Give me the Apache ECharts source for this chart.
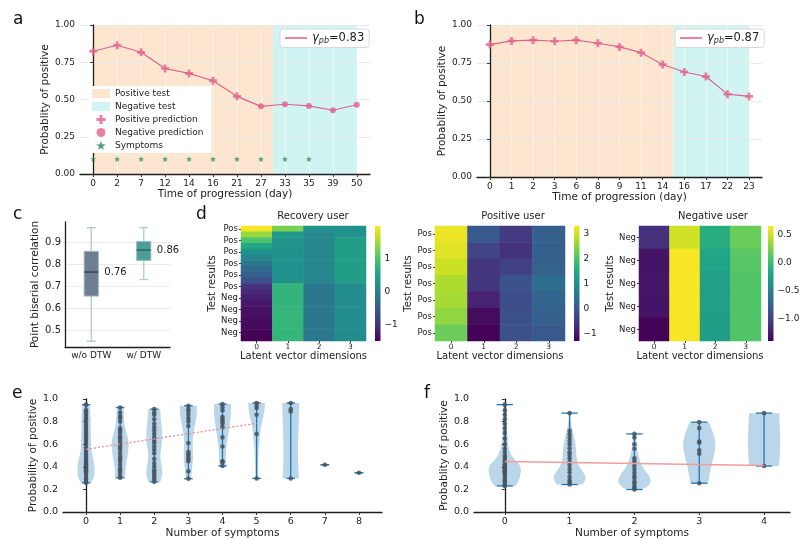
<!DOCTYPE html>
<html><head><meta charset="utf-8">
<script src="https://cdn.jsdelivr.net/npm/echarts@6/dist/echarts.min.js"></script>
<style>html,body{margin:0;padding:0;background:#fff}#c{width:800px;height:540px}</style>
</head><body><div id="c"></div>
<script>
// ---------- Panel a ----------
const aDays = ['0','2','7','12','14','16','21','27','33','35','39','50'];
const aProb = [0.824,0.864,0.817,0.708,0.675,0.626,0.521,0.454,0.468,0.457,0.428,0.465];
const aSymptomDays = ['0','2','7','12','14','16','21','27','33','35'];
const aPosTestSpan = [0, 7.5];   // day-index units
const aNegTestSpan = [7.5, 11];
const aGamma = '0.83';
// ---------- Panel b ----------
const bDays = ['0','1','2','3','6','8','9','11','14','16','17','22','23'];
const bProb = [0.871,0.895,0.900,0.893,0.900,0.880,0.856,0.818,0.740,0.691,0.661,0.545,0.530];
const bPosTestSpan = [0, 8.5];
const bNegTestSpan = [8.5, 12];
const bGamma = '0.87';
const symptomLevel = 0.1;
const predThreshold = 0.5;
// ---------- Panel c ----------
const cGroups = ['w/o DTW', 'w/ DTW'];
const cMin = [0.452, 0.732];
const cQ1  = [0.657, 0.819];
const cMed = [0.766, 0.866];
const cQ3  = [0.860, 0.904];
const cMax = [0.967, 0.967];
const cLabels = ['0.76', '0.86'];
const cTicks = [0.5, 0.6, 0.7, 0.8, 0.9];
// ---------- Panel d ----------
const dCols = ['0','1','2','3'];
const recLabels = ['Pos','Pos','Pos','Pos','Pos','Pos','Pos','Pos','Pos','Pos','Pos','Pos','Neg','Neg','Neg','Neg','Neg','Neg','Neg','Neg'];
const recRows = [
 [1.95, 1.30, 0.25, 0.25],
 [1.45, 0.40, 0.12, 0.25],
 [1.00, 0.30, 0.10, 0.45],
 [0.60, 0.28, 0.10, 0.45],
 [0.25, 0.25, 0.10, 0.45],
 [0.07, 0.25, 0.10, 0.45],
 [-0.10, 0.25, 0.10, 0.45],
 [-0.28, 0.25, 0.10, 0.45],
 [-0.45, 0.25, 0.10, 0.45],
 [-0.63, 0.25, 0.10, 0.45],
 [-1.00, 0.78, -0.12, 0.20],
 [-1.10, 0.78, -0.12, 0.20],
 [-1.20, 0.78, -0.12, 0.20],
 [-1.28, 0.78, -0.12, 0.20],
 [-1.33, 0.80, -0.12, 0.20],
 [-1.36, 0.80, -0.12, 0.20],
 [-1.40, 0.80, -0.12, 0.20],
 [-1.43, 0.80, -0.12, 0.20],
 [-1.47, 0.80, -0.12, 0.20],
 [-1.50, 0.80, -0.12, 0.20]
];
const recRange = [-1.5, 2.0];
const recTicks = [-1, 0, 1];
const posLabels = ['Pos','Pos','Pos','Pos','Pos','Pos','Pos'];
const posRows = [
 [3.20, 0.00, -0.50, 0.10],
 [3.10, -0.35, -0.62, 0.10],
 [2.95, -0.55, -0.40, 0.15],
 [2.75, -0.55, -0.12, 0.35],
 [2.70, -0.85, -0.20, 0.20],
 [2.55, -1.15, -0.15, 0.10],
 [2.30, -1.25, -0.15, 0.00]
];
const posRange = [-1.28, 3.32];
const posTicks = [-1, 0, 1, 2, 3];
const negLabels = ['Neg','Neg','Neg','Neg','Neg'];
const negRows = [
 [-1.10, 0.52, -0.12, 0.19],
 [-1.28, 0.64, -0.20, 0.12],
 [-1.27, 0.64, -0.24, 0.10],
 [-1.28, 0.64, -0.24, 0.10],
 [-1.38, 0.64, -0.26, 0.10]
];
const negRange = [-1.39, 0.66];
const negTicks = [-1.0, -0.5, 0.0, 0.5];
// ---------- Panel e ----------
const eCats = ['0','1','2','3','4','5','6','7','8'];
const ePoints = [
 [0.258,0.27,0.29,0.31,0.33,0.35,0.36,0.37,0.38,0.39,0.40,0.41,0.42,0.43,0.45,0.47,0.49,0.51,0.53,0.55,0.57,0.60,0.62,0.64,0.66,0.68,0.70,0.72,0.74,0.76,0.78,0.80,0.82,0.84,0.86,0.88,0.90,0.95],
 [0.303,0.32,0.35,0.37,0.39,0.42,0.45,0.47,0.49,0.52,0.55,0.57,0.59,0.61,0.63,0.65,0.67,0.70,0.72,0.74,0.80,0.83,0.85,0.88,0.925],
 [0.267,0.29,0.31,0.33,0.35,0.37,0.40,0.43,0.47,0.52,0.55,0.58,0.61,0.63,0.66,0.69,0.72,0.75,0.78,0.82,0.86,0.88,0.91],
 [0.294,0.36,0.45,0.47,0.49,0.51,0.53,0.61,0.76,0.80,0.83,0.86,0.89,0.91,0.94],
 [0.407,0.44,0.45,0.58,0.66,0.75,0.78,0.80,0.82,0.84,0.90,0.93,0.955],
 [0.297,0.69,0.86,0.92,0.94,0.965],
 [0.297,0.89,0.91,0.965],
 [0.418],
 [0.347]
];
const eProfiles = [
 [[0.258,0.6],[0.3,0.9],[0.35,1.0],[0.4,1.0],[0.45,0.9],[0.5,0.75],[0.55,0.62],[0.6,0.58],[0.65,0.58],[0.7,0.56],[0.75,0.55],[0.8,0.55],[0.85,0.52],[0.9,0.48],[0.95,0.42]],
 [[0.303,0.6],[0.35,0.62],[0.4,0.65],[0.45,0.75],[0.5,0.88],[0.55,0.95],[0.6,1.0],[0.65,0.92],[0.7,0.75],[0.75,0.58],[0.8,0.48],[0.85,0.45],[0.9,0.42],[0.925,0.4]],
 [[0.267,0.7],[0.3,0.85],[0.35,0.95],[0.4,0.88],[0.45,0.75],[0.5,0.7],[0.55,0.78],[0.6,0.88],[0.65,0.92],[0.7,0.92],[0.75,0.88],[0.8,0.8],[0.85,0.75],[0.91,0.7]],
 [[0.294,0.3],[0.35,0.38],[0.4,0.45],[0.45,0.52],[0.5,0.55],[0.55,0.52],[0.6,0.5],[0.65,0.52],[0.7,0.6],[0.75,0.72],[0.8,0.85],[0.85,0.95],[0.9,1.0],[0.94,0.98]],
 [[0.407,0.35],[0.45,0.4],[0.5,0.4],[0.55,0.42],[0.6,0.5],[0.65,0.6],[0.7,0.7],[0.75,0.8],[0.8,0.9],[0.85,0.97],[0.9,1.0],[0.955,0.98]],
 [[0.297,0.15],[0.35,0.16],[0.45,0.2],[0.55,0.25],[0.6,0.3],[0.7,0.42],[0.75,0.5],[0.8,0.65],[0.85,0.8],[0.9,0.92],[0.965,1.0]],
 [[0.297,0.95],[0.35,0.92],[0.45,0.87],[0.55,0.85],[0.65,0.87],[0.75,0.92],[0.85,0.97],[0.965,1.0]],
 [[0.418,0]],
 [[0.347,0]]
];
const eTrend = [[0, 0.555], [5, 0.785]];
// ---------- Panel f ----------
const fCats = ['0','1','2','3','4'];
const fPoints = [
 [0.231,0.24,0.26,0.28,0.30,0.32,0.34,0.35,0.36,0.37,0.38,0.39,0.40,0.41,0.42,0.44,0.46,0.48,0.50,0.53,0.56,0.60,0.65,0.70,0.74,0.78,0.82,0.86,0.90,0.95],
 [0.243,0.26,0.282,0.312,0.35,0.38,0.415,0.445,0.475,0.504,0.528,0.564,0.60,0.629,0.659,0.688,0.718,0.875],
 [0.199,0.214,0.23,0.255,0.27,0.30,0.32,0.35,0.38,0.41,0.45,0.475,0.56,0.60,0.66,0.691],
 [0.255,0.516,0.546,0.614,0.623,0.742,0.795],
 [0.407,0.875]
];
const fProfiles = [
 [[0.231,0.65],[0.27,0.82],[0.3,0.92],[0.35,0.98],[0.38,1.0],[0.42,0.9],[0.45,0.7],[0.5,0.42],[0.55,0.28],[0.6,0.2],[0.7,0.14],[0.8,0.11],[0.9,0.1],[0.95,0.09]],
 [[0.243,0.8],[0.28,0.95],[0.31,1.0],[0.35,0.85],[0.4,0.6],[0.45,0.47],[0.5,0.42],[0.55,0.4],[0.6,0.36],[0.65,0.3],[0.7,0.22],[0.75,0.13],[0.8,0.07],[0.875,0.03]],
 [[0.199,0.45],[0.22,0.75],[0.25,0.95],[0.28,1.0],[0.32,0.9],[0.36,0.7],[0.4,0.5],[0.45,0.35],[0.5,0.25],[0.55,0.18],[0.6,0.14],[0.65,0.1],[0.691,0.08]],
 [[0.255,0.55],[0.3,0.6],[0.35,0.66],[0.4,0.73],[0.45,0.82],[0.5,0.9],[0.55,0.97],[0.6,1.0],[0.65,0.95],[0.7,0.85],[0.75,0.72],[0.795,0.6]],
 [[0.407,0.92],[0.5,0.97],[0.63,1.0],[0.75,0.97],[0.875,0.93]]
];
const fTrend = [[0, 0.448], [4, 0.412]];

// ================= build =================
const FONT = 'DejaVu Sans';
const INK = '#222';
const viridis = ['#440154','#482475','#414487','#355f8d','#2a788e','#21918c','#22a884','#44bf70','#7ad151','#bddf26','#fde725'];
const pink = '#e0628c';
const posShade = '#fde6d0';
const negShade = '#d0f4f2';
const plusPath = 'path://M3.3,0H6.7V3.3H10V6.7H6.7V10H3.3V6.7H0V3.3H3.3Z';
const starPath = 'path://M5,0L6.18,3.38L9.76,3.45L6.9,5.62L7.94,9.05L5,7L2.06,9.05L3.1,5.62L0.24,3.45L3.82,3.38Z';
const spine = {show:true, lineStyle:{color:'#1e1e1e', width:1.3}};
const lbl = (fs) => ({fontFamily:FONT, fontSize:fs, color:INK});
const nameStyle = (fs) => ({fontFamily:FONT, fontSize:fs, color:INK});

const idx = n => Array.from({length:n}, (_, i) => i);
const aIdx = idx(aDays.length), bIdx = idx(bDays.length);

function shadeItem(color){
  return (params, api) => {
    const cs = params.coordSys;
    const x0 = api.coord([api.value(0), 0])[0];
    const x1 = api.coord([api.value(1), 0])[0];
    return {type:'rect', shape:{x:x0, y:cs.y, width:x1-x0, height:cs.height}, style:{fill:color}};
  };
}
function colorbarItem(params, api){
  const p0 = api.coord([0, api.value(2)]);
  const p1 = api.coord([1, api.value(1)]);
  return {type:'rect', shape:{x:p0[0], y:p0[1], width:p1[0]-p0[0], height:p1[1]-p0[1]},
    style:{fill: new echarts.graphic.LinearGradient(0,1,0,0, viridis.map((c,i)=>({offset:i/(viridis.length-1), color:c})))}};
}
function violinItem(profiles, points){
  return (params, api) => {
    const i = api.value(0);
    const prof = profiles[i];
    const unit = api.size([1, 0])[0];
    const half = unit * 0.25, cap = unit * 0.125;
    const cx = api.coord([i, 0])[0];
    const vals = points[i];
    const lo = Math.min.apply(null, vals), hi = Math.max.apply(null, vals);
    const yLo = api.coord([i, lo])[1], yHi = api.coord([i, hi])[1];
    const children = [];
    if (prof.length > 1) {
      const pts = [];
      prof.forEach(p => pts.push([cx + p[1]*half, api.coord([i, p[0]])[1]]));
      for (let k = prof.length-1; k >= 0; k--) pts.push([cx - prof[k][1]*half, api.coord([i, prof[k][0]])[1]]);
      children.push({type:'polygon', shape:{points:pts}, style:{fill:'rgba(31,119,180,0.3)'}});
    }
    const ls = {stroke:'#1f77b4', lineWidth:1.3};
    children.push({type:'line', shape:{x1:cx, y1:yLo, x2:cx, y2:yHi}, style:ls});
    children.push({type:'line', shape:{x1:cx-cap, y1:yLo, x2:cx+cap, y2:yLo}, style:ls});
    children.push({type:'line', shape:{x1:cx-cap, y1:yHi, x2:cx+cap, y2:yHi}, style:ls});
    return {type:'group', children};
  };
}
const cColors = [{fill:'#6c7e92', med:'#2f3d4b', wh:'#b4c5d2', edge:'#a4b4c2'}, {fill:'#4c9c98', med:'#245e5b', wh:'#a9d0cd', edge:'#8ec2bf'}];
function boxItem(params, api){
  const i = api.value(0);
  const unit = api.size([1, 0])[0];
  const bw = unit * 0.27, cw = unit * 0.17;
  const cx = api.coord([i, 0])[0];
  const y = k => api.coord([i, api.value(k)])[1];
  const yMin = y(1), yQ1 = y(2), yMed = y(3), yQ3 = y(4), yMax = y(5);
  const col = cColors[i];
  const ws = {stroke:col.wh, lineWidth:1.3};
  return {type:'group', children:[
    {type:'line', shape:{x1:cx, y1:yMin, x2:cx, y2:yQ1}, style:ws},
    {type:'line', shape:{x1:cx, y1:yQ3, x2:cx, y2:yMax}, style:ws},
    {type:'line', shape:{x1:cx-cw/2, y1:yMin, x2:cx+cw/2, y2:yMin}, style:ws},
    {type:'line', shape:{x1:cx-cw/2, y1:yMax, x2:cx+cw/2, y2:yMax}, style:ws},
    {type:'rect', shape:{x:cx-bw/2, y:yQ3, width:bw, height:yQ1-yQ3}, style:{fill:col.fill, stroke:col.edge, lineWidth:1}},
    {type:'line', shape:{x1:cx-bw/2, y1:yMed, x2:cx+bw/2, y2:yMed}, style:{stroke:col.med, lineWidth:1.3}},
    {type:'text', style:{text:cLabels[i], x:cx+bw/2+6, y:yMed, fontFamily:FONT, fontSize:10, fill:INK, align:'left', verticalAlign:'middle'}}
  ]};
}
const heatData = rows => rows.flatMap((row, r) => row.map((v, c) => [c, r, v]));

const grids = [
  {left:80, top:25, width:290, height:149},      // 0 a
  {left:477, top:25, width:285, height:152},     // 1 b
  {left:65, top:222, width:105, height:125},     // 2 c
  {left:241, top:226, width:125, height:115},    // 3 d rec
  {left:375, top:226, width:5.5, height:115},    // 4 cb rec
  {left:435, top:226, width:130, height:115},    // 5 d pos
  {left:574, top:226, width:5.5, height:115},    // 6 cb pos
  {left:639, top:226, width:122, height:115},    // 7 d neg
  {left:768, top:226, width:5.5, height:115},    // 8 cb neg
  {left:63, top:399, width:319, height:113},     // 9 e
  {left:474, top:399, width:316, height:113}     // 10 f
].map(g => Object.assign({outerBoundsMode:'none', containLabel:false}, g));

function timeX(gi, days, ids, min, max){
  return {gridIndex:gi, type:'value', min, max, z:3,
    axisLine:spine, axisTick:{show:true, length:3, customValues:ids, lineStyle:{color:'#333'}},
    axisLabel:Object.assign({customValues:ids, formatter:v => days[v], margin:5}, lbl(9)),
    splitLine:{show:true, lineStyle:{color:'rgba(255,255,255,0.55)', width:1}},
    name:'Time of progression (day)', nameLocation:'middle', nameGap:12, nameTextStyle:nameStyle(10.5)};
}
function probY(gi, gap, title){
  return {gridIndex:gi, type:'value', min:0, max:1, interval:0.25, z:3,
    axisLine:spine, axisTick:{show:true, length:3, lineStyle:{color:'#333'}},
    axisLabel:Object.assign({formatter:v => v.toFixed(2), margin:5}, lbl(9)),
    splitLine:{show:true, lineStyle:{color:'#e8e8e8', width:1}},
    name:title, nameLocation:'middle', nameGap:gap, nameRotate:90, nameTextStyle:nameStyle(10.5)};
}
function heatX(gi){
  return {gridIndex:gi, type:'category', data:dCols, axisLine:{show:false},
    axisTick:{show:true, length:2, alignWithLabel:true, lineStyle:{color:'#333'}},
    axisLabel:Object.assign({margin:2}, lbl(7.5)), splitLine:{show:false},
    name:'Latent vector dimensions', nameLocation:'middle', nameGap:9, nameTextStyle:nameStyle(10)};
}
function heatY(gi, labels, every, gap){
  return {gridIndex:gi, type:'category', data:labels.map((_, i) => String(i)), inverse:true, axisLine:{show:false},
    axisTick:{show:true, length:2, interval:every, alignWithLabel:true, lineStyle:{color:'#333'}},
    axisLabel:Object.assign({interval:every, margin:3, formatter:(v, i) => labels[+v]}, lbl(8.5)), splitLine:{show:false},
    name:'Test results', nameLocation:'middle', nameGap:gap, nameRotate:90, nameTextStyle:nameStyle(10)};
}
function cbX(gi){ return {gridIndex:gi, type:'value', min:0, max:1, show:false}; }
function cbY(gi, range, ticks, digits){
  return {gridIndex:gi, type:'value', min:range[0], max:range[1], position:'right', axisLine:{show:false},
    axisTick:{show:true, length:3, customValues:ticks, lineStyle:{color:'#333'}},
    axisLabel:Object.assign({customValues:ticks, margin:4, formatter:v => (v < 0 ? '\u2212' : '') + Math.abs(v).toFixed(digits)}, lbl(9)),
    splitLine:{show:false}};
}
function symX(gi, cats, min, max){
  const ids = idx(cats.length);
  return {gridIndex:gi, type:'value', min, max, axisLine:spine,
    axisTick:{show:true, length:3, customValues:ids, lineStyle:{color:'#333'}},
    axisLabel:Object.assign({customValues:ids, formatter:v => cats[v], margin:5}, lbl(9.5)),
    splitLine:{show:false}, name:'Number of symptoms', nameLocation:'middle', nameGap:13, nameTextStyle:nameStyle(10.5)};
}
function symY(gi, title){
  return {gridIndex:gi, type:'value', min:0, max:1, interval:0.2, axisLine:spine,
    axisTick:{show:true, length:3, lineStyle:{color:'#333'}},
    axisLabel:Object.assign({formatter:v => v.toFixed(1), margin:5}, lbl(9.5)),
    splitLine:{show:false}, name:title, nameLocation:'middle', nameGap:20, nameRotate:90, nameTextStyle:nameStyle(10.5)};
}

const xAxis = [
  timeX(0, aDays, aIdx, -0.55, 11.55),
  timeX(1, bDays, bIdx, -0.6, 12.6),
  {gridIndex:2, type:'category', data:cGroups, axisLine:spine, axisTick:{show:false},
   axisLabel:Object.assign({margin:4}, lbl(9)), splitLine:{show:false}},
  heatX(3), cbX(4), heatX(5), cbX(6), heatX(7), cbX(8),
  symX(9, eCats, -0.675, 8.675),
  symX(10, fCats, -0.475, 4.4)
];
const yAxis = [
  probY(0, 27, 'Probablity of positive'),
  probY(1, 28, 'Probablity of positive'),
  {gridIndex:2, type:'value', min:0.426, max:0.993, axisLine:spine,
   axisTick:{show:false, customValues:cTicks},
   axisLabel:Object.assign({customValues:cTicks, formatter:v => v.toFixed(1), margin:4}, lbl(10)),
   splitLine:{show:true, lineStyle:{color:'#ececec'}},
   name:'Point biserial correlation', nameLocation:'middle', nameGap:18, nameRotate:90, nameTextStyle:nameStyle(10.5)},
  heatY(3, recLabels, 1, 20), cbY(4, recRange, recTicks, 0),
  heatY(5, posLabels, 0, 18), cbY(6, posRange, posTicks, 0),
  heatY(7, negLabels, 0, 19), cbY(8, negRange, negTicks, 1),
  symY(9, 'Probability of positive'),
  symY(10, 'Probablity of positive')
];

const aPts = aDays.map((d, i) => [i, aProb[i]]);
const bPts = bDays.map((d, i) => [i, bProb[i]]);
const series = [
  {type:'custom', name:'Positive test', xAxisIndex:0, yAxisIndex:0, z:1, silent:true, itemStyle:{color:posShade}, renderItem:shadeItem(posShade), data:[aPosTestSpan]},
  {type:'custom', name:'Negative test', xAxisIndex:0, yAxisIndex:0, z:1, silent:true, itemStyle:{color:negShade}, renderItem:shadeItem(negShade), data:[aNegTestSpan]},
  {type:'line', name:'gA', xAxisIndex:0, yAxisIndex:0, z:5, symbol:'none', lineStyle:{color:pink, width:1.2}, itemStyle:{color:pink}, data:aPts},
  {type:'scatter', name:'Positive prediction', xAxisIndex:0, yAxisIndex:0, z:6, symbol:plusPath, symbolSize:8, itemStyle:{color:pink}, data:aPts.filter(p => p[1] >= predThreshold)},
  {type:'scatter', name:'Negative prediction', xAxisIndex:0, yAxisIndex:0, z:6, symbol:'circle', symbolSize:6, itemStyle:{color:pink}, data:aPts.filter(p => p[1] < predThreshold)},
  {type:'scatter', name:'Symptoms', xAxisIndex:0, yAxisIndex:0, z:6, symbol:starPath, symbolSize:6, itemStyle:{color:'#2b8a57'}, data:aSymptomDays.map(d => [aDays.indexOf(d), symptomLevel])},
  {type:'custom', name:'bPos', xAxisIndex:1, yAxisIndex:1, z:1, silent:true, renderItem:shadeItem(posShade), data:[bPosTestSpan]},
  {type:'custom', name:'bNeg', xAxisIndex:1, yAxisIndex:1, z:1, silent:true, renderItem:shadeItem(negShade), data:[bNegTestSpan]},
  {type:'line', name:'gB', xAxisIndex:1, yAxisIndex:1, z:5, symbol:'none', lineStyle:{color:pink, width:1.2}, itemStyle:{color:pink}, data:bPts},
  {type:'scatter', name:'bPlus', xAxisIndex:1, yAxisIndex:1, z:6, symbol:plusPath, symbolSize:8, itemStyle:{color:pink}, data:bPts.filter(p => p[1] >= predThreshold)},
  {type:'custom', name:'box', xAxisIndex:2, yAxisIndex:2, z:3, renderItem:boxItem,
   data:cGroups.map((g, i) => [i, cMin[i], cQ1[i], cMed[i], cQ3[i], cMax[i]])},
  {type:'heatmap', name:'hRec', xAxisIndex:3, yAxisIndex:3, data:heatData(recRows)},
  {type:'custom', name:'cbRec', xAxisIndex:4, yAxisIndex:4, renderItem:colorbarItem, data:[[0, recRange[0], recRange[1]]]},
  {type:'heatmap', name:'hPos', xAxisIndex:5, yAxisIndex:5, data:heatData(posRows)},
  {type:'custom', name:'cbPos', xAxisIndex:6, yAxisIndex:6, renderItem:colorbarItem, data:[[0, posRange[0], posRange[1]]]},
  {type:'heatmap', name:'hNeg', xAxisIndex:7, yAxisIndex:7, data:heatData(negRows)},
  {type:'custom', name:'cbNeg', xAxisIndex:8, yAxisIndex:8, renderItem:colorbarItem, data:[[0, negRange[0], negRange[1]]]},
  {type:'custom', name:'eViolin', xAxisIndex:9, yAxisIndex:9, z:2, renderItem:violinItem(eProfiles, ePoints), data:eCats.map((c, i) => [i])},
  {type:'scatter', name:'eDots', xAxisIndex:9, yAxisIndex:9, z:3, symbolSize:4.6, itemStyle:{color:'#46535f', opacity:0.85},
   data:ePoints.flatMap((arr, i) => arr.map(v => [i, v]))},
  {type:'line', name:'eTrend', xAxisIndex:9, yAxisIndex:9, z:4, symbol:'none', lineStyle:{color:'#f08a8a', width:1.3, type:[2,2]}, data:eTrend},
  {type:'custom', name:'fViolin', xAxisIndex:10, yAxisIndex:10, z:2, renderItem:violinItem(fProfiles, fPoints), data:fCats.map((c, i) => [i])},
  {type:'scatter', name:'fDots', xAxisIndex:10, yAxisIndex:10, z:3, symbolSize:4.6, itemStyle:{color:'#46535f', opacity:0.85},
   data:fPoints.flatMap((arr, i) => arr.map(v => [i, v]))},
  {type:'line', name:'fTrend', xAxisIndex:10, yAxisIndex:10, z:4, symbol:'none', lineStyle:{color:'#f29c9c', width:1.5}, data:fTrend}
];

const gammaRich = {
  g:{fontFamily:FONT, fontSize:11.5, fontStyle:'italic', color:INK},
  s:{fontFamily:FONT, fontSize:8, fontStyle:'italic', color:INK, padding:[5,0,0,0]},
  t:{fontFamily:FONT, fontSize:11.5, color:INK}
};
const gammaLegend = (name, left, top, val) => ({
  data:[{name, icon:'rect'}], left, top, orient:'horizontal', itemWidth:22, itemHeight:1.6, itemGap:0,
  backgroundColor:'#fff', borderColor:'#d8d8d8', borderWidth:1, borderRadius:3, padding:[3,5,3,5],
  formatter:() => '{g|\u03b3}{s|pb}{t|=' + val + '}', textStyle:{rich:gammaRich}, selectedMode:false, z:6
});

const option = {
  animation:false,
  textStyle:{fontFamily:FONT},
  grid:grids, xAxis, yAxis, series,
  visualMap:[
    {show:false, seriesIndex:11, min:recRange[0], max:recRange[1], inRange:{color:viridis}},
    {show:false, seriesIndex:13, min:posRange[0], max:posRange[1], inRange:{color:viridis}},
    {show:false, seriesIndex:15, min:negRange[0], max:negRange[1], inRange:{color:viridis}}
  ],
  legend:[
    {data:[{name:'Positive test', icon:'rect'}, {name:'Negative test', icon:'rect'},
           {name:'Positive prediction', icon:plusPath}, {name:'Negative prediction', icon:'circle'},
           {name:'Symptoms', icon:starPath}],
     orient:'vertical', left:89, top:86, itemWidth:18, itemHeight:9, itemGap:4,
     backgroundColor:'#fff', padding:[3,8,3,3], selectedMode:false, z:6,
     textStyle:{fontFamily:FONT, fontSize:9, color:INK}},
    gammaLegend('gA', 280, 29, aGamma),
    gammaLegend('gB', 675, 29, bGamma)
  ],
  title:[
    {text:'Recovery user', left:308, top:206, textAlign:'center', textStyle:{fontFamily:FONT, fontSize:10, fontWeight:'normal', color:INK}},
    {text:'Positive user', left:508, top:206, textAlign:'center', textStyle:{fontFamily:FONT, fontSize:10, fontWeight:'normal', color:INK}},
    {text:'Negative user', left:708, top:206, textAlign:'center', textStyle:{fontFamily:FONT, fontSize:10, fontWeight:'normal', color:INK}}
  ],
  graphic:[
    ['a', 13, 11], ['b', 414, 11], ['c', 13, 206], ['d', 196, 206], ['e', 12, 385], ['f', 424, 385]
  ].map(([t, x, y]) => ({type:'text', left:x, top:y, style:{text:t, fontFamily:FONT, fontSize:17, fill:'#111'}}))
};
const chart = echarts.init(document.getElementById('c'), null, {renderer:'canvas'});
chart.setOption(option);
</script></body></html>
